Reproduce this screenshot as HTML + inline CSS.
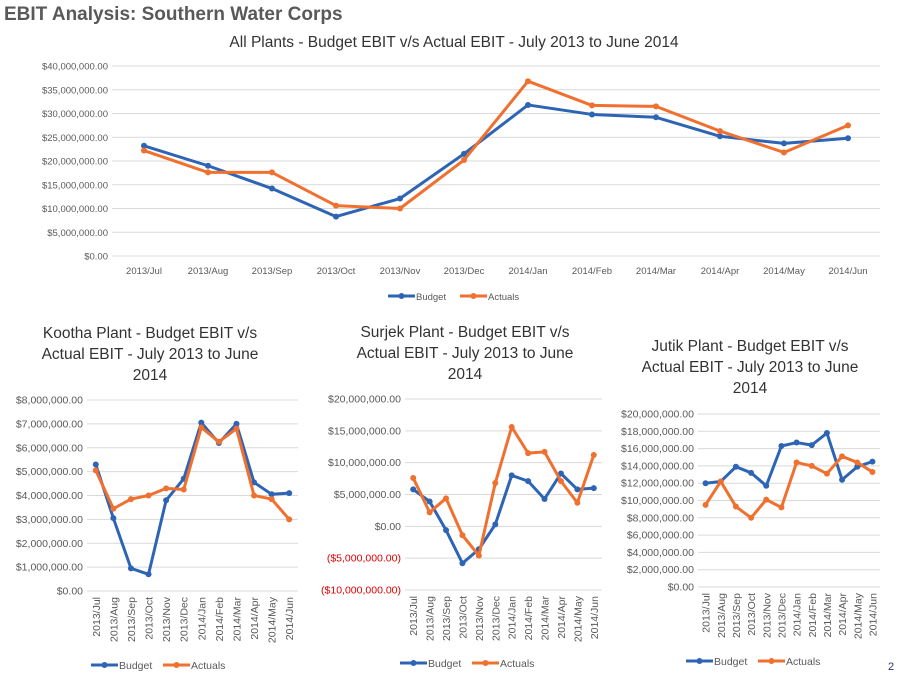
<!DOCTYPE html>
<html><head><meta charset="utf-8">
<style>
body{margin:0;background:#fff;width:904px;height:677px;overflow:hidden;font-family:"Liberation Sans",sans-serif;}
svg{position:absolute;left:0;top:0;}
</style></head>
<body>
<svg id="s" width="904" height="677">
<text x="4" y="20" font-size="19" font-weight="bold" fill="#595959">EBIT Analysis: Southern Water Corps</text>
<text x="454" y="47" font-size="15.5" text-anchor="middle" fill="#333">All Plants - Budget EBIT v/s Actual EBIT - July 2013 to June 2014</text>
<text x="150" y="338" font-size="15.5" text-anchor="middle" fill="#333">Kootha Plant - Budget EBIT v/s</text>
<text x="150" y="359" font-size="15.5" text-anchor="middle" fill="#333">Actual EBIT - July 2013 to June</text>
<text x="150" y="380" font-size="15.5" text-anchor="middle" fill="#333">2014</text>
<text x="465" y="337" font-size="15.5" text-anchor="middle" fill="#333">Surjek Plant - Budget EBIT v/s</text>
<text x="465" y="358" font-size="15.5" text-anchor="middle" fill="#333">Actual EBIT - July 2013 to June</text>
<text x="465" y="379" font-size="15.5" text-anchor="middle" fill="#333">2014</text>
<text x="750" y="351" font-size="15.5" text-anchor="middle" fill="#333">Jutik Plant - Budget EBIT v/s</text>
<text x="750" y="372" font-size="15.5" text-anchor="middle" fill="#333">Actual EBIT - July 2013 to June</text>
<text x="750" y="393" font-size="15.5" text-anchor="middle" fill="#333">2014</text>
<text x="888" y="670" font-size="11" fill="#1f3864">2</text>
</svg>
<script>
const categories=["2013/Jul","2013/Aug","2013/Sep","2013/Oct","2013/Nov","2013/Dec","2014/Jan","2014/Feb","2014/Mar","2014/Apr","2014/May","2014/Jun"];
const mainBudget=[23.2,19.0,14.2,8.3,12.1,21.5,31.8,29.8,29.2,25.2,23.7,24.8];
const mainActuals=[22.2,17.6,17.6,10.6,10.0,20.2,36.8,31.7,31.5,26.3,21.8,27.5];
const koothaBudget=[5.3,3.05,0.95,0.7,3.8,4.7,7.05,6.2,7.0,4.55,4.05,4.1];
const koothaActuals=[5.05,3.45,3.85,4.0,4.3,4.25,6.85,6.25,6.8,4.0,3.85,3.0];
const surjekBudget=[5.8,3.9,-0.6,-5.8,-3.6,0.3,8.0,7.1,4.3,8.3,5.8,6.0];
const surjekActuals=[7.6,2.2,4.4,-1.4,-4.6,6.8,15.6,11.5,11.7,7.1,3.7,11.2];
const jutikBudget=[12.0,12.2,13.9,13.2,11.7,16.3,16.7,16.4,17.8,12.4,13.9,14.5];
const jutikActuals=[9.5,12.2,9.3,8.0,10.1,9.2,14.4,14.0,13.1,15.1,14.4,13.3];
const mainTicks=[0,5,10,15,20,25,30,35,40];
const koothaTicks=[0,1,2,3,4,5,6,7,8];
const surjekTicks=[-10,-5,0,5,10,15,20];
const jutikTicks=[0,2,4,6,8,10,12,14,16,18,20];

const NS="http://www.w3.org/2000/svg";
const svg=document.getElementById('s');
function mk(tag,attrs,parent){const e=document.createElementNS(NS,tag);for(const k in attrs)e.setAttribute(k,attrs[k]);(parent||svg).appendChild(e);return e;}
function fmt(v){const s='$'+(Math.abs(v)*1e6).toLocaleString('en-US',{minimumFractionDigits:2,maximumFractionDigits:2});return v<0?'('+s+')':s;}

function chart(o){
  const g=mk('g',{});
  
  
  const ymin=o.ticks[0],ymax=o.ticks[o.ticks.length-1];
  const y=v=>o.y0+(ymax-v)/(ymax-ymin)*(o.y1-o.y0);
  const bw=(o.x1-o.x0)/categories.length;
  const x=i=>o.x0+bw*(i+0.5);
  o.ticks.forEach(t=>{
    const l=mk('line',{x1:o.x0,x2:o.x1,y1:y(t),y2:y(t),stroke:'#d9d9d9','stroke-width':1},g);
    
    
    const tx=mk('text',{x:o.x0-4,y:y(t)+3.5,'font-size':o.fs,'text-anchor':'end',fill:t<0?'#e00000':'#595959'},g);
    
    
    tx.textContent=fmt(t);
  });
  categories.forEach((c,i)=>{
    let tx;
    if(o.rot){tx=mk('text',{x:0,y:0,'font-size':o.fs,'text-anchor':'end',fill:'#595959',transform:`translate(${x(i)+4},${o.y1+6}) rotate(-90)`},g);}
    else tx=mk('text',{x:x(i),y:o.y1+18,'font-size':o.fs,'text-anchor':'middle',fill:'#595959'},g);
    
    
    tx.textContent=c;
  });
  [[o.b,'#2e64b4','budget'],[o.a,'#f07030','actuals']].forEach(([d,col,n])=>{
    const p=mk('polyline',{points:d.map((v,i)=>x(i)+','+y(v)).join(' '),fill:'none',stroke:col,'stroke-width':3,'stroke-linejoin':'round'},g);
    
    
    d.forEach((v,i)=>{const c=mk('circle',{cx:x(i),cy:y(v),r:3,fill:col},g);
      
      });
  });
  const lx=o.lx,ly=o.ly;
  [['Budget','#2e64b4',0],['Actuals','#f07030',o.lgap]].forEach(([t,col,dx])=>{
    const lg=mk('g',{},g);
    
    
    mk('line',{x1:lx+dx,x2:lx+dx+o.ll,y1:ly,y2:ly,stroke:col,'stroke-width':3},lg);
    mk('circle',{cx:lx+dx+o.ll/2,cy:ly,r:3,fill:col},lg);
    const tx=mk('text',{x:lx+dx+o.ll+1,y:ly+4,'font-size':o.lfs,fill:'#595959'},lg);
    tx.textContent=t;
  });
}
chart({name:'all-plants',x0:112,x1:880,y0:66,y1:256,ticks:mainTicks,b:mainBudget,a:mainActuals,fs:9.5,rot:false,lx:388,ly:296,lgap:72,ll:27,lfs:9.5});
chart({name:'kootha',x0:87,x1:298,y0:400,y1:591,ticks:koothaTicks,b:koothaBudget,a:koothaActuals,fs:10.5,rot:true,lx:91,ly:665,lgap:72,ll:27,lfs:10.5});
chart({name:'surjek',x0:405,x1:602,y0:399,y1:590,ticks:surjekTicks,b:surjekBudget,a:surjekActuals,fs:10.5,rot:true,lx:400,ly:663,lgap:72,ll:27,lfs:10.5});
chart({name:'jutik',x0:698,x1:880,y0:414,y1:587,ticks:jutikTicks,b:jutikBudget,a:jutikActuals,fs:10.5,rot:true,lx:686,ly:661,lgap:72,ll:27,lfs:10.5});
</script>
</body></html>
